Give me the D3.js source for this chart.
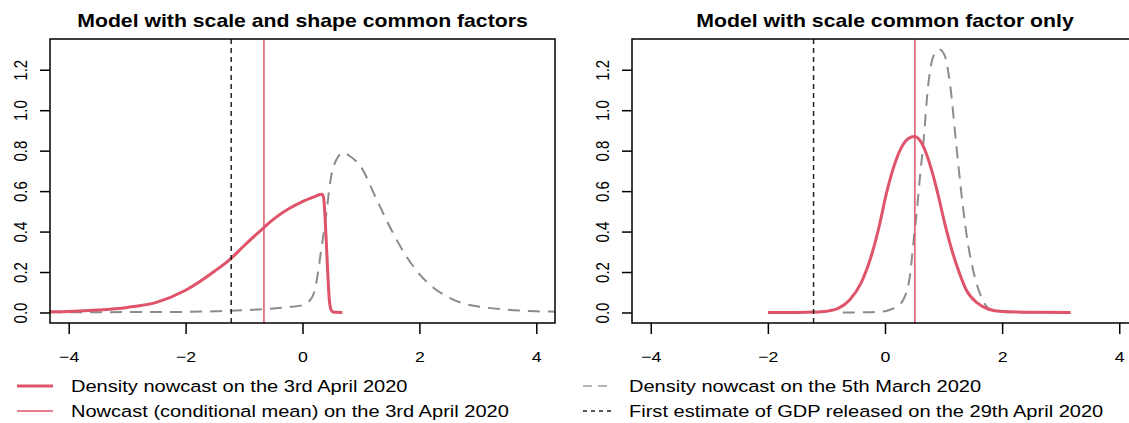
<!DOCTYPE html>
<html>
<head>
<meta charset="utf-8">
<script src="https://cdn.jsdelivr.net/npm/d3@7"></script>
<style>
  body { margin: 0; background: #fff; }
  text { font-family: "Liberation Sans", Arial, sans-serif; fill: #000; }
</style>
</head>
<body>
<div id="container"></div>
<script>
/* DATA */
const titles = ["Model with scale and shape common factors", "Model with scale common factor only"];

// left panel: density nowcast 3rd April (pink)
const leftAprX = [-4.32, -4.0, -3.5, -3.0, -2.5, -2.0, -1.5, -1.22, -1.0, -0.66, -0.5, -0.25, 0.0, 0.2, 0.3, 0.33, 0.36, 0.38, 0.40, 0.42, 0.44, 0.46, 0.48, 0.51, 0.55, 0.68];
const leftAprY = [0.003, 0.005, 0.012, 0.025, 0.05, 0.11, 0.205, 0.268, 0.33, 0.42, 0.46, 0.51, 0.548, 0.572, 0.583, 0.585, 0.57, 0.50, 0.39, 0.27, 0.15, 0.06, 0.02, 0.004, 0.001, 0.0];
// left panel: density nowcast 5th March (grey dashed)
const leftMarX = [-4.32, -3.0, -2.0, -1.5, -1.0, -0.5, -0.25, 0.0, 0.1, 0.2, 0.25, 0.32, 0.4, 0.48, 0.57, 0.7, 0.8, 1.0, 1.25, 1.5, 1.75, 2.0, 2.25, 2.5, 2.75, 3.0, 3.5, 4.0, 4.32];
const leftMarY = [0.001, 0.002, 0.003, 0.006, 0.011, 0.02, 0.027, 0.036, 0.052, 0.10, 0.17, 0.31, 0.47, 0.655, 0.75, 0.79, 0.775, 0.72, 0.57, 0.42, 0.29, 0.19, 0.12, 0.075, 0.045, 0.03, 0.014, 0.006, 0.004];

// right panel
const rightAprX = [-2.0, -1.5, -1.2, -1.0, -0.8, -0.6, -0.41, -0.22, -0.1, 0.025, 0.15, 0.27, 0.4, 0.5, 0.6, 0.7, 0.8, 0.9, 1.02, 1.14, 1.27, 1.39, 1.58, 1.77, 2.0, 2.5, 3.17];
const rightAprY = [0.0, 0.0005, 0.002, 0.006, 0.02, 0.063, 0.145, 0.293, 0.425, 0.59, 0.72, 0.81, 0.86, 0.87, 0.85, 0.79, 0.70, 0.59, 0.44, 0.31, 0.195, 0.11, 0.046, 0.016, 0.005, 0.001, 0.0];
const rightMarX = [-0.72, -0.3, 0.0, 0.1, 0.21, 0.34, 0.43, 0.49, 0.55, 0.6, 0.65, 0.74, 0.83, 0.93, 1.02, 1.11, 1.21, 1.30, 1.39, 1.52, 1.64, 1.77, 1.95, 2.2, 2.64];
const rightMarY = [0.0, 0.001, 0.006, 0.015, 0.03, 0.08, 0.19, 0.36, 0.52, 0.68, 0.82, 1.13, 1.27, 1.30, 1.27, 1.13, 0.85, 0.6, 0.39, 0.19, 0.08, 0.02, 0.005, 0.001, 0.0];

// vertical lines
const nowcastMean = [-0.66, 0.51];
const gdpFirst = [-1.22, -1.22];

const xTicks = [-4, -2, 0, 2, 4];
const yTicks = [0, 0.2, 0.4, 0.6, 0.8, 1.0, 1.2];

const legendLeft = ["Density nowcast on the 3rd April 2020", "Nowcast (conditional mean) on the 3rd April 2020"];
const legendRight = ["Density nowcast on the 5th March 2020", "First estimate of GDP released on the 29th April 2020"];

/* CONSTANTS */
const width = 1129, height = 423;
const SX = 1.18;              // horizontal stretch of the original picture
const pink = "#DF536B", grey = "#8c8c8c";
const plotTop = 39, plotBottom = 323;
const panels = [
  { x0: 50, x1: 555, apr: [leftAprX, leftAprY], mar: [leftMarX, leftMarY] },
  { x0: 632, x1: 1138, apr: [rightAprX, rightAprY], mar: [rightMarX, rightMarY] }
];

const svg = d3.select("#container")
  .append("svg")
  .attr("width", width)
  .attr("height", height);

const yScale = d3.scaleLinear().domain([-0.052, 1.352]).range([plotBottom, plotTop]);

panels.forEach((p, i) => {
  const xScale = d3.scaleLinear().domain([-4.32, 4.32]).range([p.x0, p.x1]);
  const g = svg.append("g");

  g.append("clipPath").attr("id", "clip" + i)
    .append("rect")
    .attr("x", p.x0).attr("y", plotTop)
    .attr("width", p.x1 - p.x0).attr("height", plotBottom - plotTop);

  const line = d3.line()
    .x(d => xScale(d[0]))
    .y(d => yScale(d[1]))
    .curve(d3.curveMonotoneX);

  const plot = g.append("g").attr("clip-path", `url(#clip${i})`);

  // March density (grey dashed)
  plot.append("path")
    .datum(p.mar[0].map((x, k) => [x, p.mar[1][k]]))
    .attr("d", line)
    .attr("fill", "none")
    .attr("stroke", grey)
    .attr("stroke-width", 2)
    .attr("stroke-dasharray", "12,8");

  // April density (pink)
  plot.append("path")
    .datum(p.apr[0].map((x, k) => [x, p.apr[1][k]]))
    .attr("d", line)
    .attr("fill", "none")
    .attr("stroke", pink)
    .attr("stroke-width", 3)
    .attr("stroke-linejoin", "round");

  // first GDP estimate
  plot.append("line")
    .attr("x1", xScale(gdpFirst[i])).attr("x2", xScale(gdpFirst[i]))
    .attr("y1", plotTop).attr("y2", plotBottom)
    .attr("stroke", "#222")
    .attr("stroke-width", 1.5)
    .attr("stroke-dasharray", "5,4");

  // nowcast mean
  plot.append("line")
    .attr("x1", xScale(nowcastMean[i])).attr("x2", xScale(nowcastMean[i]))
    .attr("y1", plotTop).attr("y2", plotBottom)
    .attr("stroke", pink)
    .attr("stroke-width", 1.5);

  // box
  g.append("rect")
    .attr("x", p.x0).attr("y", plotTop)
    .attr("width", p.x1 - p.x0).attr("height", plotBottom - plotTop)
    .attr("fill", "none")
    .attr("stroke", "#000")
    .attr("stroke-width", 1.5);

  // x-axis
  const xAxis = g.append("g")
    .attr("transform", `translate(0, ${plotBottom})`)
    .call(d3.axisBottom(xScale).tickValues(xTicks).tickSize(11).tickSizeOuter(0).tickPadding(17));
  xAxis.select(".domain").remove();
  xAxis.selectAll("line").attr("stroke", "#000").attr("stroke-width", 1.5);
  xAxis.selectAll("text")
    .attr("font-size", 15)
    .attr("fill", "#000")
    .attr("transform", `scale(${SX},1)`);

  // y-axis
  const yAxis = g.append("g")
    .attr("transform", `translate(${p.x0}, 0)`)
    .call(d3.axisLeft(yScale).tickValues(yTicks).tickSize(10).tickFormat(d3.format(".1f")));
  yAxis.select(".domain").remove();
  yAxis.selectAll("line").attr("stroke", "#000").attr("stroke-width", 1.5);
  yAxis.selectAll("text")
    .attr("x", null).attr("dy", null)
    .attr("font-size", 15)
    .attr("fill", "#000")
    .attr("text-anchor", "middle")
    .attr("transform", `translate(-23,0) scale(${SX},1) rotate(-90)`);

  // title
  svg.append("text")
    .attr("text-anchor", "middle")
    .attr("font-weight", "bold")
    .attr("font-size", 18)
    .attr("transform", `translate(${(p.x0 + p.x1) / 2}, 27) scale(${SX},1)`)
    .text(titles[i]);
});

/* LEGEND */
const legendRows = [386, 411];
const leftStyles = [
  { stroke: pink, width: 3, dash: null },
  { stroke: pink, width: 1.5, dash: null }
];
const rightStyles = [
  { stroke: "#b5b5b5", width: 2, dash: "9,6" },
  { stroke: "#222", width: 1.5, dash: "4,4" }
];

function legendBlock(labels, styles, lx0, lx1, tx) {
  labels.forEach((lab, k) => {
    svg.append("line")
      .attr("x1", lx0).attr("x2", lx1)
      .attr("y1", legendRows[k]).attr("y2", legendRows[k])
      .attr("stroke", styles[k].stroke)
      .attr("stroke-width", styles[k].width)
      .attr("stroke-dasharray", styles[k].dash);
    svg.append("text")
      .attr("font-size", 17)
      .attr("transform", `translate(${tx}, ${legendRows[k] + 6}) scale(${SX},1)`)
      .text(lab);
  });
}
legendBlock(legendLeft, leftStyles, 17, 53, 71);
legendBlock(legendRight, rightStyles, 583, 612, 629);
</script>
</body>
</html>
